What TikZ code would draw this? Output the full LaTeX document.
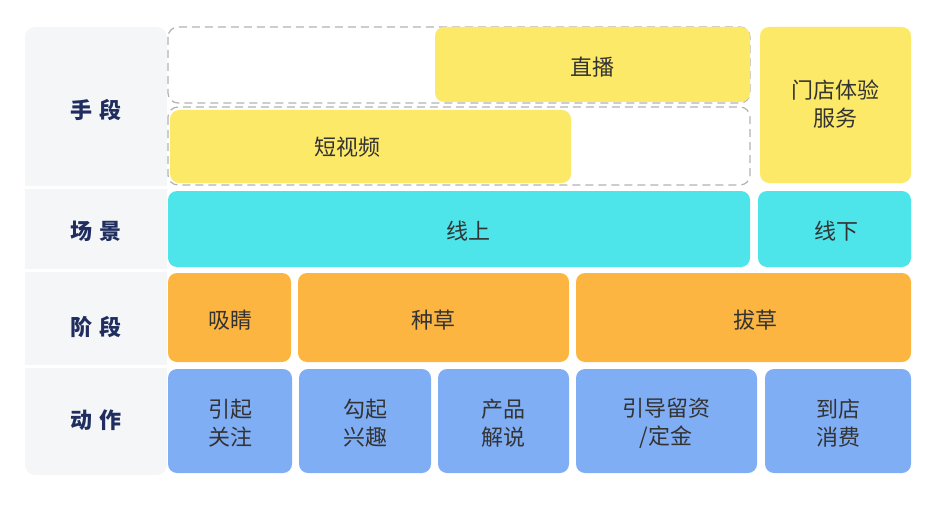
\documentclass[tikz,border=0pt]{standalone}
\usepackage{fontspec}
\setmainfont{Noto Sans CJK SC}
\newfontfamily\cjkb[BoldFont={Noto Sans CJK SC Bold}]{Noto Sans CJK SC}
\begin{document}
\begin{tikzpicture}[x=1pt,y=-1pt,
  cell/.style={rounded corners=9pt,draw=none},
  txt/.style={font=\fontsize{22}{28}\selectfont,text=black!80,align=center},
  lab/.style={font=\fontsize{22}{26}\selectfont\bfseries,text={rgb,255:red,31;green,45;blue,95}}]
\definecolor{yel}{RGB}{253,233,104}
\definecolor{cya}{RGB}{77,229,234}
\definecolor{ora}{RGB}{251,181,64}
\definecolor{blu}{RGB}{128,174,245}
\definecolor{gry}{RGB}{244,246,248}
\useasboundingbox (0,0) rectangle (931,524);
% left column
\fill[gry,rounded corners=10pt] (25,27) rectangle (167,475);
\foreach \yy in {187,270,366} \draw[white,line width=3pt] (25,\yy) -- (167,\yy);
\node[lab] (l1) at (96,110) {手\,\,段};
\node[lab] (l2) at (96,231) {场\,\,景};
\node[lab] (l3) at (96,327) {阶\,\,段};
\node[lab] (l4) at (96,420) {动\,\,作};
% dashed
\draw[gray!60,dashed,line width=1.2pt,dash pattern=on 8pt off 5pt,rounded corners=10pt] (168,27) rectangle (750,103);
\draw[gray!60,dashed,line width=1.2pt,dash pattern=on 8pt off 5pt,rounded corners=10pt] (168,107) rectangle (750,185);
% row1
\fill[cell,yel] (435,27) rectangle (750,102); \node[txt] (zb) at (592,67) {直播};
\fill[cell,yel] (170,110) rectangle (571,183); \node[txt] (dsp) at (347,147) {短视频};
\fill[cell,yel] (760,27) rectangle (911,183); \node[txt] (md) at (835,104) {门店体验\\服务};
% row2
\fill[cell,cya] (168,191) rectangle (750,267); \node[txt] (xs) at (468,231) {线上};
\fill[cell,cya] (758,191) rectangle (911,267); \node[txt] (xx) at (836,231) {线下};
% row3
\fill[cell,ora] (168,273) rectangle (291,362); \node[txt] (xj) at (230,320) {吸睛};
\fill[cell,ora] (298,273) rectangle (569,362); \node[txt] (zc) at (433,320) {种草};
\fill[cell,ora] (576,273) rectangle (911,362); \node[txt] (bc) at (755,320) {拔草};
% row4
\fill[cell,blu] (168,369) rectangle (292,473); \node[txt] (a1) at (230,423) {引起\\关注};
\fill[cell,blu] (299,369) rectangle (431,473); \node[txt] (a2) at (365,423) {勾起\\兴趣};
\fill[cell,blu] (438,369) rectangle (569,473); \node[txt] (a3) at (503,423) {产品\\解说};
\fill[cell,blu] (576,369) rectangle (757,473); \node[txt] (a4) at (666,423) {引导留资\\/定金};
\fill[cell,blu] (765,369) rectangle (911,473); \node[txt] (a5) at (838,423) {到店\\消费};
\end{tikzpicture}
\end{document}
